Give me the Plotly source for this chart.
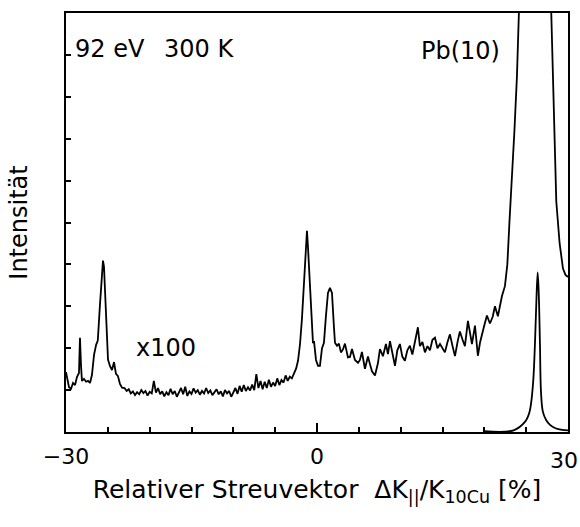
import plotly.graph_objects as go

# x100 magnified curve (y in axis units 0..10)
x_mag = [-30.0, -29.88, -29.64, -29.4, -29.16, -28.92, -28.69, -28.45, -28.33, -28.2, -28.09,
         -27.85, -27.6, -27.37, -27.13, -26.9, -26.65, -26.4, -26.2, -25.94, -25.7, -25.58,
         -25.46, -25.34, -25.1, -24.98, -24.74, -24.5, -24.26, -24.03, -23.8, -23.55, -23.3,
         -23.0, -22.75, -22.5, -22.25, -22.0, -21.75, -21.5, -21.25, -21.0, -20.75, -20.5,
         -20.25, -20.0, -19.75, -19.5, -19.25, -19.0, -18.75, -18.5, -18.25, -18.0, -17.75,
         -17.5, -17.25, -17.0, -16.75, -16.5, -16.25, -16.0, -15.75, -15.5, -15.25, -15.0,
         -14.75, -14.5, -14.25, -14.0, -13.75, -13.5, -13.25, -13.0, -12.75, -12.5, -12.25,
         -12.0, -11.75, -11.5, -11.25, -11.0, -10.75, -10.5, -10.25, -10.0, -9.75, -9.5,
         -9.25, -9.0, -8.75, -8.5, -8.25, -8.0, -7.75, -7.5, -7.25, -7.0, -6.75, -6.5, -6.25,
         -6.0, -5.75, -5.5, -5.25, -5.0, -4.75, -4.5, -4.25, -4.0, -3.75, -3.5, -3.25, -3.0,
         -2.75, -2.5, -2.27, -2.03, -1.8, -1.56, -1.32, -1.2, -1.08, -0.84, -0.6, -0.48,
         -0.36, -0.12, 0.12, 0.35, 0.6, 0.83, 1.07, 1.31, 1.55, 1.79, 2.03, 2.15, 2.39, 2.62,
         2.86, 3.1, 3.34, 3.7, 3.94, 4.18, 4.54, 4.9, 5.13, 5.37, 5.73, 6.09, 6.33, 6.57,
         6.93, 7.28, 7.52, 7.88, 8.24, 8.48, 8.72, 9.0, 9.32, 9.6, 9.91, 10.2, 10.51, 10.8,
         11.1, 11.4, 11.7, 12.06, 12.3, 12.6, 12.9, 13.2, 13.5, 13.8, 14.1, 14.4, 14.7, 15.0,
         15.29, 15.6, 15.89, 16.2, 16.49, 16.8, 17.08, 17.4, 17.68, 18.04, 18.3, 18.52, 18.88,
         19.23, 19.5, 19.71, 20.0, 20.31, 20.67, 21.0, 21.27, 21.62, 21.9, 22.1, 22.46, 22.75,
         23.0, 23.3, 23.6, 23.9, 24.2, 24.5, 24.9, 25.3, 25.7, 26.0, 26.2, 26.37, 26.55,
         26.8, 27.2, 27.6, 28.0, 28.3, 28.6, 29.0, 29.4, 29.7, 30.0]
y_mag = [1.43, 1.31, 1.07, 1.03, 1.17, 1.12, 1.31, 1.41, 2.25, 1.56, 1.22,
         1.27, 1.20, 1.22, 1.17, 1.36, 1.84, 2.08, 2.18, 3.04, 3.71, 4.09,
         3.95, 3.40, 2.33, 1.73, 1.57, 1.48, 1.67, 1.39, 1.34, 1.15, 1.06,
         1.05, 0.98, 1.02, 0.92, 0.97, 0.88, 0.95, 0.90, 1.00, 0.93, 0.98,
         0.87, 0.96, 0.92, 1.22, 0.94, 1.05, 0.90, 0.97, 0.85, 0.95, 0.88,
         1.03, 0.90, 0.98, 0.84, 0.93, 1.05, 0.90, 1.08, 0.86, 0.97, 0.91,
         1.04, 0.94, 1.00, 0.89, 0.98, 0.92, 1.05, 0.93, 0.99, 0.88, 0.96,
         1.02, 0.90, 0.97, 0.85, 1.00, 0.92, 0.98, 0.84, 0.95, 1.05, 0.91,
         1.10, 0.96, 1.12, 0.98, 1.07, 0.99, 1.13, 1.00, 1.38, 1.05, 1.22, 1.02, 1.20,
         1.05, 1.25, 1.08, 1.18, 1.10, 1.28, 1.12, 1.24, 1.18, 1.35, 1.22, 1.32, 1.28,
         1.40, 1.51, 1.70, 2.10, 2.70, 3.54, 4.49, 4.80, 4.42, 3.42, 2.35, 2.12,
         2.17, 1.72, 1.58, 1.58, 2.00, 2.13, 2.77, 3.32, 3.44, 3.32, 2.49, 2.13, 2.06, 2.11,
         1.90, 1.97, 2.11, 1.78, 1.79, 1.98, 1.72, 1.65, 1.72, 1.91, 1.51, 1.80, 1.62, 1.45,
         1.35, 1.64, 1.98, 1.81, 2.10, 1.86, 2.17, 1.85, 1.58, 1.95, 2.10, 1.80, 1.70, 1.95,
         2.06, 1.85, 2.15, 2.50, 2.05, 2.15, 1.90, 2.05, 1.95, 2.20, 2.25, 2.00, 2.10, 1.98,
         1.90, 2.15, 2.33, 2.05, 1.81, 2.15, 2.40, 2.20, 2.05, 2.65, 2.30, 2.10, 2.54,
         1.82, 2.15, 2.35, 2.55, 2.78, 2.59, 2.75, 3.00, 2.76, 3.10, 3.24, 3.48, 4.00,
         5.00, 6.00, 7.20, 8.50, 9.80, 11.5, 15.0, 22.0, 45.0, 120.0, 260.0, 381.0, 240.0,
         60.0, 20.0, 13.0, 10.0, 7.5, 5.5, 4.5, 3.9, 3.75, 3.70]

# unscaled (x1) Pb(10) peak
x_peak = [20.0, 23.5, 24.85, 25.4, 25.8, 26.05, 26.2, 26.37, 26.5, 26.65, 26.77, 27.0,
          27.4, 27.85, 28.5, 29.3, 30.0]
y_peak = [0.02, 0.04, 0.24, 0.48, 1.10, 2.10, 3.00, 3.81, 3.33, 2.08, 0.96, 0.48,
          0.28, 0.17, 0.09, 0.05, 0.04]

x_ticks = [-30, 0, 30]
x_ticklabels = ["\u221230", "0", "30"]
y_ticks = [0, 1, 2, 3, 4, 5, 6, 7, 8, 9, 10]

FONT = "DejaVu Sans"

fig = go.Figure()
fig.add_trace(go.Scatter(x=x_mag, y=y_mag, mode="lines",
                         line=dict(color="black", width=1.8), showlegend=False))
fig.add_trace(go.Scatter(x=x_peak, y=y_peak, mode="lines",
                         line=dict(color="black", width=1.8, shape="spline"), showlegend=False))

fig.update_layout(
    width=580, height=527,
    margin=dict(l=66, r=12, t=13, b=95),
    paper_bgcolor="white", plot_bgcolor="white",
    font=dict(family=FONT, color="black", size=22),
    xaxis=dict(range=[-30, 30], tickvals=x_ticks[:2], ticktext=x_ticklabels[:2],
               ticks="inside", ticklen=9, tickwidth=1.5, tickcolor="black",
               minor=dict(dtick=5, tick0=0, ticks="inside", ticklen=5, tickwidth=1.5,
                          tickcolor="black"),
               showline=True, linecolor="black", linewidth=2, mirror=True,
               showgrid=False, zeroline=False, automargin=False,
               ticklabelstandoff=4,
               tickfont=dict(size=22, family=FONT),
               title=dict(text="Relativer Streuvektor  \u0394K<sub>||</sub>/K<sub>10Cu</sub> [%]",
                          font=dict(size=25, family=FONT), standoff=12)),
    yaxis=dict(range=[0, 10], tickvals=y_ticks, showticklabels=False,
               ticks="inside", ticklen=5, tickwidth=1.5, tickcolor="black",
               showline=True, linecolor="black", linewidth=2, mirror=True,
               showgrid=False, zeroline=False, automargin=False,
               title=dict(text="Intensit\u00e4t", font=dict(size=24, family=FONT),
                          standoff=30)),
)

# right-hand x tick label (would be clipped at the page edge as a regular tick label)
fig.add_annotation(text=x_ticklabels[2], x=x_ticks[2], xref="x", y=0, yref="y",
                   xanchor="center", yanchor="top", xshift=-4, yshift=-14,
                   showarrow=False, font=dict(size=22, family=FONT, color="black"))

ann = dict(showarrow=False, font=dict(size=24, family=FONT, color="black"),
           xref="paper", yref="paper")
fig.add_annotation(text="92 eV", x=0.087, y=0.915, xanchor="center", yanchor="middle", **ann)
fig.add_annotation(text="300 K", x=0.265, y=0.915, xanchor="center", yanchor="middle", **ann)
fig.add_annotation(text="Pb(10)", x=0.785, y=0.91, xanchor="center", yanchor="middle", **ann)
fig.add_annotation(text="x100", x=0.2, y=0.2, xanchor="center", yanchor="middle", **ann)

fig.write_html("out.html")
